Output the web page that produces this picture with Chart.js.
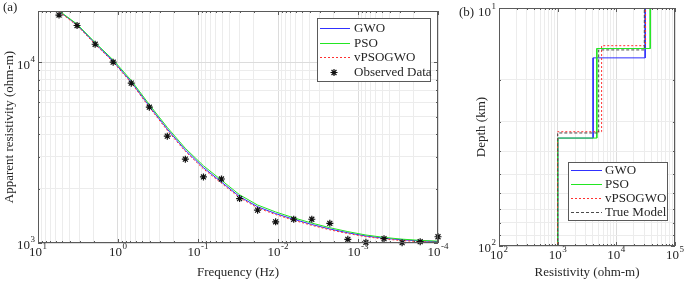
<!DOCTYPE html>
<html>
<head>
<meta charset="utf-8">
<script src="https://cdn.jsdelivr.net/npm/chart.js@4.4.1/dist/chart.umd.min.js"></script>
<style>
  html, body { margin: 0; padding: 0; background: #fff; font-family: "Liberation Serif", serif; }
  #wrap { position: relative; width: 685px; height: 284px; }
  #wrap canvas { position: absolute; left: 0; top: 0; }
  #warm { position: absolute; left: -999px; top: 0; font: 13px "Liberation Serif", serif; }
</style>
</head>
<body>
<span id="warm">10 Frequency</span>
<div id="wrap">
  <canvas id="chartA" width="685" height="284"></canvas>
  <canvas id="chartB" width="685" height="284"></canvas>
</div>
<script>
// ---- panel (a): apparent resistivity vs frequency ----
const frequency = [5.46, 3.25, 1.93, 1.15, 0.683, 0.406, 0.242, 0.144, 0.0855, 0.0509, 0.0302,
  0.0180, 0.0107, 0.00636, 0.00378, 0.00225, 0.00134, 0.000796, 0.000473, 0.000281, 0.000167, 0.0001];
const observed = [18240, 15960, 12570, 10000, 7660, 5640, 3900, 2910, 2320, 2260, 1760,
  1520, 1310, 1353, 1353, 1285, 1048, 1009, 1056, 1004, 1017, 1083];
const gwoCurve = [19130, 16115, 12689, 10128, 7784, 5713, 4264, 3265, 2613, 2173, 1806,
  1587, 1455, 1352, 1266, 1195, 1139, 1093, 1063, 1041, 1027, 1018];
const psoCurve = [19250, 16250, 12850, 10300, 7930, 5830, 4360, 3340, 2675, 2225, 1848,
  1622, 1485, 1378, 1289, 1215, 1156, 1107, 1074, 1050, 1034, 1024];
const vpsogwoCurve = [19050, 15950, 12560, 10020, 7690, 5630, 4195, 3210, 2570, 2140, 1780,
  1565, 1436, 1336, 1252, 1183, 1128, 1083, 1053, 1031, 1017, 1008];

// ---- panel (b): layered models (resistivity per layer, interface depths in km) ----
const gwoRes = [31000, 4020, 1000];
const gwoDepth = [16.2, 35.2];
const psoRes = [37800, 4650, 1000];
const psoDepth = [14.8, 35.2];
const vpsogwoRes = [31500, 5610, 1000];
const vpsogwoDepth = [14.4, 33.1];
const trueRes = [30000, 5000, 1000];
const trueDepth = [15, 33.5];

const FONT = '"Liberation Serif", serif';
const INK = '#262626';
const BLUE = '#3030ff';
const GREEN = '#22e622';
const RED = '#ff3030';
const GRAY = '#4a4a4a';

Chart.defaults.font.family = FONT;

function isDecade(v) {
  const l = Math.log10(v);
  return Math.abs(l - Math.round(l)) < 1e-6;
}

// 1..9 x 10^n ticks between axis limits (MATLAB style minor grid)
function logTicks(min, max) {
  const out = [];
  for (let e = Math.floor(Math.log10(min)); e <= Math.ceil(Math.log10(max)); e++) {
    for (let m = 1; m <= 9; m++) {
      const v = m * Math.pow(10, e);
      if (v >= min * 0.999 && v <= max * 1.001) out.push({ value: v });
    }
  }
  return out;
}

function pairs(xs, ys) {
  return xs.map((x, i) => ({ x: x, y: ys[i] }));
}

// staircase of a layered model, top and bottom run off the axis and get clipped
function stepLine(res, depth) {
  const tops = [1].concat(depth);
  const bots = depth.concat([1000]);
  const pts = [];
  res.forEach((r, i) => {
    pts.push({ x: r, y: tops[i] });
    pts.push({ x: r, y: bots[i] });
  });
  return pts;
}

function drawPower(ctx, exp, x, y, align) {
  ctx.font = '13px ' + FONT;
  const wb = ctx.measureText('10').width;
  ctx.font = '9px ' + FONT;
  const sup = String(exp);
  const ws = ctx.measureText(sup).width;
  const total = wb + ws + 0.5;
  const left = align === 'center' ? x - total / 2 : x - total;
  ctx.textAlign = 'left';
  ctx.textBaseline = 'middle';
  ctx.font = '13px ' + FONT;
  ctx.fillText('10', left, y);
  ctx.font = '9px ' + FONT;
  ctx.fillText(sup, left + wb + 0.5, y - 6);
}

function drawStar(ctx, x, y, r) {
  const d = r * Math.SQRT1_2;
  ctx.beginPath();
  ctx.moveTo(x - r, y); ctx.lineTo(x + r, y);
  ctx.moveTo(x, y - r); ctx.lineTo(x, y + r);
  ctx.moveTo(x - d, y - d); ctx.lineTo(x + d, y + d);
  ctx.moveTo(x - d, y + d); ctx.lineTo(x + d, y - d);
  ctx.stroke();
}

// axes box, inward ticks, power-of-ten labels, titles and legend
const decoPlugin = {
  id: 'deco',
  afterDraw(chart, args, o) {
    const ctx = chart.ctx;
    const a = chart.chartArea;
    const xs = chart.scales.x, ys = chart.scales.y;
    ctx.save();
    ctx.strokeStyle = '#5a5a5a';
    ctx.lineWidth = 1;
    ctx.beginPath();
    xs.ticks.forEach(t => {
      const p = Math.round(xs.getPixelForValue(t.value)) + 0.5;
      const len = isDecade(t.value) ? 4 : 2;
      ctx.moveTo(p, a.bottom); ctx.lineTo(p, a.bottom - len);
      ctx.moveTo(p, a.top); ctx.lineTo(p, a.top + len);
    });
    ys.ticks.forEach(t => {
      const p = Math.round(ys.getPixelForValue(t.value)) + 0.5;
      const len = isDecade(t.value) ? 4 : 2;
      ctx.moveTo(a.left, p); ctx.lineTo(a.left + len, p);
      ctx.moveTo(a.right, p); ctx.lineTo(a.right - len, p);
    });
    ctx.stroke();
    ctx.strokeRect(Math.round(a.left) + 0.5, Math.round(a.top) + 0.5,
      Math.round(a.width) - 1, Math.round(a.height) - 1);

    ctx.fillStyle = INK;
    xs.ticks.filter(t => isDecade(t.value)).forEach(t => {
      drawPower(ctx, Math.round(Math.log10(t.value)), xs.getPixelForValue(t.value), a.bottom + 10, 'center');
    });
    ys.ticks.filter(t => isDecade(t.value)).forEach(t => {
      const p = ys.getPixelForValue(t.value);
      const dy = Math.abs(p - a.top) < 1 ? o.topLabelShift : 3;
      drawPower(ctx, Math.round(Math.log10(t.value)), a.left - 3, p + dy, 'right');
    });

    ctx.font = '13px ' + FONT;
    ctx.textAlign = 'center';
    ctx.textBaseline = 'middle';
    ctx.fillText(o.xTitle, (a.left + a.right) / 2, 273);
    ctx.save();
    ctx.translate(o.yTitleX, (a.top + a.bottom) / 2);
    ctx.rotate(-Math.PI / 2);
    ctx.fillText(o.yTitle, 0, 0);
    ctx.restore();
    ctx.textAlign = 'left';
    ctx.fillText(o.panel, o.panelX, o.panelY);

    // legend
    const L = o.legend;
    ctx.fillStyle = '#fff';
    ctx.fillRect(L.x, L.y, L.w, L.h);
    ctx.strokeStyle = '#5a5a5a';
    ctx.strokeRect(L.x + 0.5, L.y + 0.5, L.w, L.h);
    L.items.forEach((it, i) => {
      const y = Math.round(L.y + L.first + i * L.step) + 0.5;
      ctx.strokeStyle = it.color;
      ctx.lineWidth = 1;
      if (it.star) {
        ctx.lineWidth = 1.2;
        drawStar(ctx, L.x + L.lineFrom + (L.lineTo - L.lineFrom) / 2 - 1, y, 3.5);
      } else {
        ctx.setLineDash(it.dash || []);
        ctx.beginPath();
        ctx.moveTo(L.x + L.lineFrom, y);
        ctx.lineTo(L.x + L.lineTo, y);
        ctx.stroke();
        ctx.setLineDash([]);
      }
      ctx.fillStyle = INK;
      ctx.font = '13px ' + FONT;
      ctx.textBaseline = 'middle';
      ctx.fillText(it.label, L.x + L.textX, y);
    });
    ctx.restore();
  }
};

function gridColor(c) {
  return c.tick && isDecade(c.tick.value) ? '#dcdcdc' : '#ececec';
}

function logAxis(min, max, reverse) {
  return {
    type: 'logarithmic',
    min: min,
    max: max,
    reverse: reverse,
    afterBuildTicks: s => { s.ticks = logTicks(min, max); },
    ticks: { display: false },
    grid: { color: gridColor, lineWidth: 1, drawTicks: false },
    border: { display: false }
  };
}

function curve(label, data, color, dash, order) {
  return {
    label: label, data: data, showLine: true, borderColor: color, borderWidth: 1,
    borderDash: dash, pointRadius: 0, fill: false, order: order
  };
}

function build() {
  new Chart(document.getElementById('chartA'), {
    type: 'scatter',
    data: {
      datasets: [
        curve('GWO', pairs(frequency, gwoCurve), BLUE, [], 3),
        curve('PSO', pairs(frequency, psoCurve), GREEN, [], 2),
        curve('vPSOGWO', pairs(frequency, vpsogwoCurve), RED, [2, 2], 1),
        {
          label: 'Observed Data', data: pairs(frequency, observed), showLine: false,
          pointStyle: 'star', pointRadius: 3.5, borderColor: '#111', pointBorderWidth: 1.2,
          backgroundColor: '#111', clip: false, order: 0
        }
      ]
    },
    options: {
      responsive: false,
      animation: false,
      devicePixelRatio: 1,
      events: [],
      layout: { autoPadding: false, padding: { left: 38, right: 247, top: 11, bottom: 41 } },
      scales: { x: logAxis(0.0001, 10, true), y: logAxis(1000, 19200, false) },
      plugins: {
        legend: { display: false },
        tooltip: { enabled: false },
        deco: {
          xTitle: 'Frequency (Hz)', yTitle: 'Apparent resistivity (ohm-m)', yTitleX: 10,
          panel: '(a)', panelX: 3, panelY: 8, topLabelShift: 3,
          legend: {
            x: 317, y: 18, w: 113, h: 63, first: 10, step: 14.6, lineFrom: 3, lineTo: 33, textX: 37,
            items: [
              { label: 'GWO', color: BLUE },
              { label: 'PSO', color: GREEN },
              { label: 'vPSOGWO', color: RED, dash: [2, 2] },
              { label: 'Observed Data', color: '#111', star: true }
            ]
          }
        }
      }
    },
    plugins: [decoPlugin]
  });

  new Chart(document.getElementById('chartB'), {
    type: 'scatter',
    data: {
      datasets: [
        curve('GWO', stepLine(gwoRes, gwoDepth), BLUE, [], 3),
        curve('PSO', stepLine(psoRes, psoDepth), GREEN, [], 2),
        curve('vPSOGWO', stepLine(vpsogwoRes, vpsogwoDepth), RED, [2, 2], 1),
        curve('True Model', stepLine(trueRes, trueDepth), GRAY, [3, 2], 0)
      ]
    },
    options: {
      responsive: false,
      animation: false,
      devicePixelRatio: 1,
      events: [],
      layout: { autoPadding: false, padding: { left: 499, right: 10, top: 8, bottom: 38 } },
      scales: { x: logAxis(100, 100000, false), y: logAxis(10, 100, true) },
      plugins: {
        legend: { display: false },
        tooltip: { enabled: false },
        deco: {
          xTitle: 'Resistivity (ohm-m)', yTitle: 'Depth (km)', yTitleX: 482,
          panel: '(b)', panelX: 459, panelY: 13, topLabelShift: 5,
          legend: {
            x: 568, y: 162, w: 99, h: 58, first: 8, step: 13.9, lineFrom: 3, lineTo: 34, textX: 37,
            items: [
              { label: 'GWO', color: BLUE },
              { label: 'PSO', color: GREEN },
              { label: 'vPSOGWO', color: RED, dash: [2, 2] },
              { label: 'True Model', color: GRAY, dash: [3, 2] }
            ]
          }
        }
      }
    },
    plugins: [decoPlugin]
  });
}

let built = false;
function buildOnce() { if (!built) { built = true; build(); } }
if (document.fonts && document.fonts.load) {
  Promise.all([
    document.fonts.load('13px "Liberation Serif"'),
    document.fonts.load('9px "Liberation Serif"')
  ]).then(buildOnce, buildOnce);
  setTimeout(buildOnce, 1500);
} else {
  buildOnce();
}
</script>
</body>
</html>
